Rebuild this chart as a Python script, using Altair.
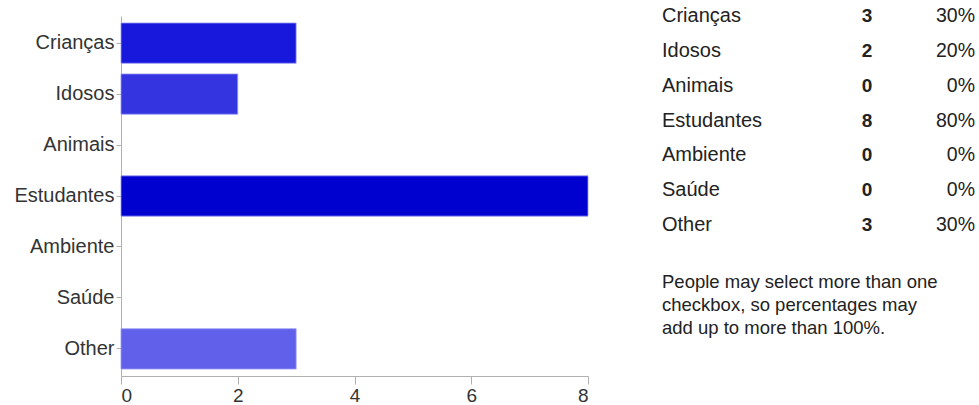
import altair as alt
import pandas as pd

# Responses to a checkbox question
categories = ["Crianças", "Idosos", "Animais", "Estudantes", "Ambiente", "Saúde", "Other"]
counts = [3, 2, 0, 8, 0, 0, 3]
percents = ["30%", "20%", "0%", "80%", "0%", "0%", "30%"]
bar_colors = ["#1818dc", "#3434e0", "#1818dc", "#0000cf", "#1818dc", "#1818dc", "#6060ea"]
x_ticks = [0, 2, 4, 6, 8]
note_lines = [
    "People may select more than one",
    "checkbox, so percentages may",
    "add up to more than 100%.",
]

FONT = "Liberation Sans"
TXT = "#222222"

df = pd.DataFrame({"category": categories, "count": counts, "pct": percents})

bars = (
    alt.Chart(df)
    .mark_bar(stroke="#9a9af5", strokeWidth=1)
    .encode(
        y=alt.Y(
            "category:N",
            sort=categories,
            title=None,
            scale=alt.Scale(domain=categories, paddingInner=0.21, paddingOuter=0.137),
            axis=alt.Axis(
                labelFont=FONT, labelFontSize=20, labelColor="#333333",
                domainColor="#b0b0b0", tickColor="#b0b0b0", tickSize=5,
                labelPadding=2, minExtent=116,
            ),
        ),
        x=alt.X(
            "count:Q",
            title=None,
            scale=alt.Scale(domain=[0, 8], nice=False),
            axis=alt.Axis(
                values=x_ticks, grid=False, labelFont=FONT, labelFontSize=19,
                labelColor="#333333", domainColor="#b0b0b0", tickColor="#b0b0b0",
                tickSize=8, labelPadding=2,
            ),
        ),
        color=alt.Color(
            "category:N",
            scale=alt.Scale(domain=categories, range=bar_colors),
            legend=None,
        ),
        strokeOpacity=alt.condition("datum.count > 0", alt.value(0.8), alt.value(0)),
    )
    .properties(width=467, height=360)
)

# Summary table: name, count, percentage
table_base = alt.Chart(df).encode(
    y=alt.Y("category:N", sort=categories, axis=None,
            scale=alt.Scale(domain=categories, paddingInner=0, paddingOuter=0)),
)
row_shift = -17.4  # put row centres on band starts

names = table_base.mark_text(
    align="left", baseline="middle", font=FONT, fontSize=20, color=TXT, dy=row_shift
).encode(x=alt.value(0), text="category:N")

nums = table_base.mark_text(
    align="center", baseline="middle", font=FONT, fontSize=19, fontWeight="bold",
    color=TXT, dy=row_shift
).encode(x=alt.value(205), text="count:Q")

pcts = table_base.mark_text(
    align="right", baseline="middle", font=FONT, fontSize=19.5, color=TXT, dy=row_shift
).encode(x=alt.value(313), text="pct:N")

table = alt.layer(names, nums, pcts).properties(
    width=313,
    height=244,
    title=alt.TitleParams(
        text=note_lines, orient="bottom", anchor="start", font=FONT, fontSize=18.5,
        fontWeight="normal", color=TXT, lineHeight=23, offset=13,
    ),
)

chart = (
    alt.hconcat(bars, table, spacing=73)
    .properties(padding={"left": 5, "top": 6, "right": 2, "bottom": 0})
    .configure_view(stroke=None)
)

chart.save("out.html", embed_options={"renderer": "svg", "actions": False})
